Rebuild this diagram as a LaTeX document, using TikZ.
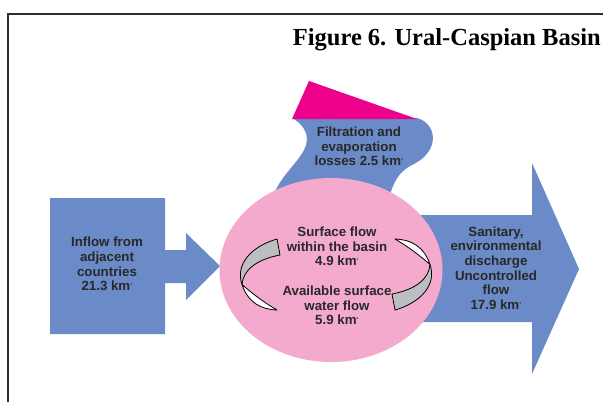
\documentclass[tikz,border=0pt]{standalone}
\usepackage{fontspec}
\setmainfont{Liberation Sans}
\newfontfamily\titlefont{Liberation Serif}
\usetikzlibrary{shapes.geometric}
\definecolor{flowblue}{RGB}{106,139,200}
\definecolor{basinpink}{RGB}{244,170,204}
\definecolor{lossmagenta}{RGB}{236,0,140}
\definecolor{ribbongray}{RGB}{188,190,192}
\definecolor{framegray}{RGB}{45,45,45}
\definecolor{flowink}{RGB}{40,40,40}
\newcommand{\kmcube}{km\textsuperscript{\fontsize{3}{3}\selectfont 3}}

\begin{document}
\begin{tikzpicture}[x=1bp, y=-1bp,
    flowtext/.style={align=center, text=flowink, inner sep=0pt, font=\fontsize{13.3bp}{14.7bp}\selectfont\bfseries},
    ribbon/.style={draw=black, line width=0.8bp, line join=round}]
    \useasboundingbox (0,0) rectangle (603,402);

    % frame and title
    \draw[framegray, line width=2.3bp] (8,402) -- (8,14) -- (603,14);
    \node[anchor=base east, inner sep=0pt, font=\titlefont\fontsize{24.5bp}{24.5bp}\selectfont\bfseries] (title) at (601,45) {Figure 6. Ural-Caspian Basin};

    % losses (behind the basin)
    \fill[flowblue] (292,118) -- (417,118) .. controls (438,124) and (440,152) .. (412,165)
        .. controls (398,172) and (390,185) .. (386,215) -- (270,215)
        .. controls (270,180) and (300,165) .. (306,145) .. controls (310,132) and (300,122) .. (292,118) -- cycle;
    \fill[lossmagenta] (292,119) -- (309,81) -- (417,119) -- cycle;

    % inflow and outflow arrows
    \fill[flowblue] (50,198) -- (165,198) -- (165,250) -- (186,250) -- (186,233) -- (220,266)
        -- (186,300) -- (186,283) -- (165,283) -- (165,334) -- (50,334) -- cycle;
    \fill[flowblue] (400,215) -- (532,215) -- (532,163) -- (579,269) -- (532,374) -- (532,322) -- (400,322) -- cycle;

    % basin
    \node[ellipse, fill=basinpink, minimum width=223bp, minimum height=184bp, inner sep=0pt] (basin) at (331,270) {};

    % circulation ribbons
    \foreach \turn in {0,180}{
      \begin{scope}[shift={(336,274.5)}, rotate=\turn]
        \filldraw[ribbon, fill=ribbongray] (-59,-35.5) .. controls (-85,-28) and (-101,-10) .. (-94,10)
            .. controls (-93,-4) and (-80,-15) .. (-56,-19.5) -- cycle;
        \filldraw[ribbon, fill=white] (-94,10) .. controls (-88,28) and (-75,35) .. (-59,35.5)
            .. controls (-72,28) and (-85,18) .. (-94,10) -- cycle;
      \end{scope}
    }

    % labels
    \node[flowtext] (inflow) at (107,264) {Inflow from\\adjacent\\countries\\21.3 \kmcube};
    \node[flowtext] (losses) at (359,146.5) {Filtration and\\evaporation\\losses 2.5 \kmcube};
    \node[flowtext] (surface) at (337,246.5) {Surface flow\\within the basin\\4.9 \kmcube};
    \node[flowtext] (available) at (337,305.5) {Available surface\\water flow\\5.9 \kmcube};
    \node[flowtext] (discharge) at (496,268) {Sanitary,\\environmental\\discharge\\Uncontrolled\\flow\\17.9 \kmcube};
\end{tikzpicture}
\end{document}
